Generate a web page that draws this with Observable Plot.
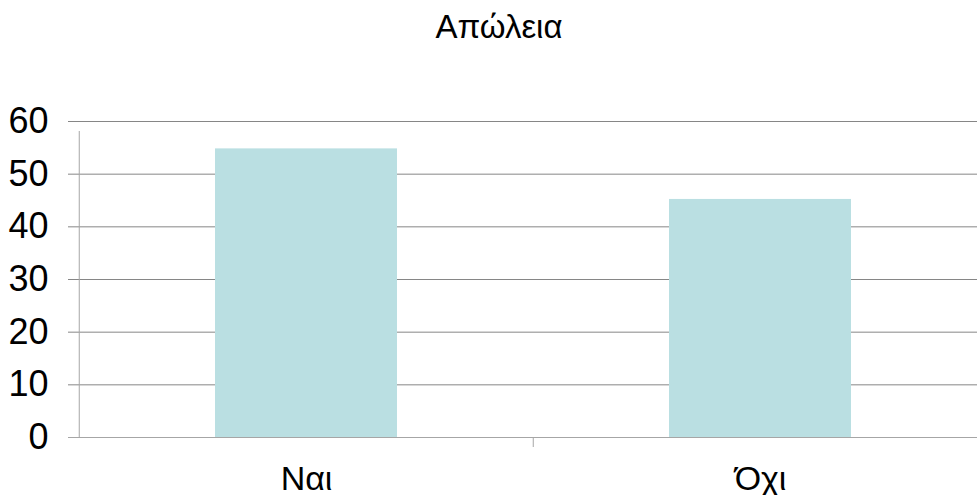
<!DOCTYPE html>
<html><head><meta charset="utf-8">
<script src="https://cdn.jsdelivr.net/npm/d3@7"></script>
<script src="https://cdn.jsdelivr.net/npm/@observablehq/plot@0.6"></script>
<style>
body{margin:0;background:#fff;font-family:"Liberation Sans",Arial,sans-serif;}
#title{height:70px;width:977px;box-sizing:border-box;padding-left:21px;padding-top:10px;text-align:center;font-size:33px;line-height:33px;color:#000;}
</style></head><body>
<div id="title">Απώλεια</div>
<div id="chart"></div>
<script>
const categories = ["Ναι", "Όχι"];
const values = [54.8, 45.2];
const yTicks = [0, 10, 20, 30, 40, 50, 60];
const data = categories.map((c, i) => ({category: c, value: values[i]}));

const W = 977, H = 425;
const x0 = 78, x1 = 987;
const half = (x1 - x0) / categories.length / 2;

const chart = Plot.plot({
  width: W, height: H,
  marginTop: 51, marginBottom: 58, marginLeft: x0, marginRight: 0,
  style: {fontFamily: '"Liberation Sans", Arial, sans-serif', fontSize: "34px", color: "#000", overflow: "visible"},
  x: {domain: categories, range: [x0, x1], padding: 0, label: null},
  y: {domain: [0, 60], label: null},
  marks: [
    Plot.ruleY(yTicks.slice(1), {y: d => d, stroke: "#868686", strokeOpacity: 1, insetLeft: -10}),
    Plot.ruleY([0], {stroke: "#a6a6a6", strokeOpacity: 1, insetLeft: -10}),
    Plot.ruleX([categories[0]], {x: d => d, dx: -half, y1: 0, y2: 60, insetBottom: -10, stroke: "#a6a6a6", strokeOpacity: 1}),
    Plot.ruleX(categories.slice(1), {x: d => d, dx: -half, y1: 0, y2: 0, insetBottom: -10, stroke: "#a6a6a6", strokeOpacity: 1}),
    Plot.barY(data, {x: "category", y: "value", fill: "#badfe2", insetLeft: 136, insetRight: 136}),
    Plot.axisY({ticks: yTicks, tickSize: 0, tickPadding: 30, fontSize: 36, fill: "#000"}),
    Plot.axisX({tickSize: 0, tickPadding: 28, fontSize: 34, fill: "#000"})
  ]
});
document.getElementById("chart").appendChild(chart);
</script>
</body></html>
